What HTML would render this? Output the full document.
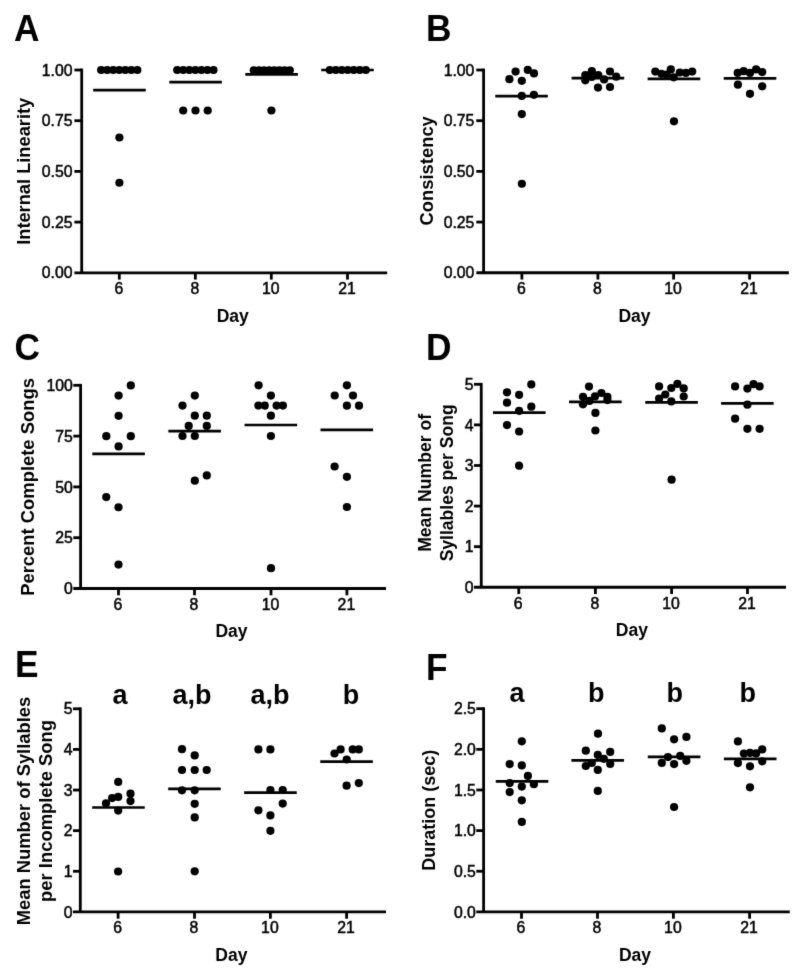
<!DOCTYPE html>
<html><head><meta charset="utf-8"><title>Figure</title>
<style>
html,body{margin:0;padding:0;background:#fff;}
svg{display:block;filter:grayscale(100%);}
text{font-family:"Liberation Sans", sans-serif;fill:#000;}
.ax{stroke:#000;stroke-width:2.8;fill:none;}
.ml{stroke:#000;stroke-width:2.7;fill:none;}
.tl{font-size:15.8px;stroke:#000;stroke-width:0.5px;}
.ti{font-size:18px;font-weight:bold;}
.le{font-size:37px;font-weight:bold;}
.sg{font-size:27px;font-weight:bold;}
circle{fill:#000;}
</style></head>
<body>
<svg width="800" height="975" viewBox="0 0 800 975">
<defs><filter id="soft" x="0" y="0" width="800" height="975" filterUnits="userSpaceOnUse"><feConvolveMatrix order="3" kernelMatrix="0.011 0.084 0.011 0.084 0.62 0.084 0.011 0.084 0.011" divisor="1" edgeMode="none"/></filter></defs>
<rect width="800" height="975" fill="#fff"/>
<g filter="url(#soft)">
<path d="M81.7 68.6V272.8" class="ax"/>
<path d="M74.4 272.8H387.2" class="ax"/>
<text x="72.5" y="278.41" class="tl" text-anchor="end">0.00</text>
<path d="M74.4 222.1H81.7" class="ax"/>
<text x="72.5" y="227.71" class="tl" text-anchor="end">0.25</text>
<path d="M74.4 171.4H81.7" class="ax"/>
<text x="72.5" y="177.01" class="tl" text-anchor="end">0.50</text>
<path d="M74.4 120.7H81.7" class="ax"/>
<text x="72.5" y="126.31" class="tl" text-anchor="end">0.75</text>
<path d="M74.4 70H81.7" class="ax"/>
<text x="72.5" y="75.61" class="tl" text-anchor="end">1.00</text>
<path d="M119.3 272.8V279.6" class="ax"/>
<text x="118.8" y="294.1" class="tl" text-anchor="middle">6</text>
<path d="M195.35 272.8V279.6" class="ax"/>
<text x="194.85" y="294.1" class="tl" text-anchor="middle">8</text>
<path d="M271.3 272.8V279.6" class="ax"/>
<text x="270.8" y="294.1" class="tl" text-anchor="middle">10</text>
<path d="M347.5 272.8V279.6" class="ax"/>
<text x="347" y="294.1" class="tl" text-anchor="middle">21</text>
<text x="232.7" y="321.5" class="ti" style="font-size:17.5px" text-anchor="middle">Day</text>
<text transform="translate(29.6 171.3) rotate(-90)" class="ti" style="font-size:18.25px" text-anchor="middle">Internal Linearity</text>
<text transform="translate(14.1 40.5) scale(0.955 1)" class="le">A</text>
<circle cx="101.15" cy="70" r="4.1"/>
<circle cx="107.18" cy="70" r="4.1"/>
<circle cx="113.21" cy="70" r="4.1"/>
<circle cx="119.24" cy="70" r="4.1"/>
<circle cx="125.27" cy="70" r="4.1"/>
<circle cx="131.3" cy="70" r="4.1"/>
<circle cx="137.33" cy="70" r="4.1"/>
<circle cx="119.4" cy="137.5" r="4.1"/>
<circle cx="119.4" cy="182.75" r="4.1"/>
<path d="M93.2 90.2H145.8" class="ml"/>
<circle cx="177.2" cy="70" r="4.1"/>
<circle cx="183.25" cy="70" r="4.1"/>
<circle cx="189.3" cy="70" r="4.1"/>
<circle cx="195.35" cy="70" r="4.1"/>
<circle cx="201.4" cy="70" r="4.1"/>
<circle cx="207.45" cy="70" r="4.1"/>
<circle cx="213.5" cy="70" r="4.1"/>
<circle cx="183.2" cy="110.5" r="4.1"/>
<circle cx="195.5" cy="110.5" r="4.1"/>
<circle cx="207.7" cy="110.5" r="4.1"/>
<path d="M169.3 82.2H221.9" class="ml"/>
<circle cx="253.8" cy="70.3" r="4.1"/>
<circle cx="258.94" cy="70.3" r="4.1"/>
<circle cx="264.09" cy="70.3" r="4.1"/>
<circle cx="269.23" cy="70.3" r="4.1"/>
<circle cx="274.37" cy="70.3" r="4.1"/>
<circle cx="279.51" cy="70.3" r="4.1"/>
<circle cx="284.66" cy="70.3" r="4.1"/>
<circle cx="289.8" cy="70.3" r="4.1"/>
<circle cx="271.4" cy="110.5" r="4.1"/>
<path d="M245.3 74.3H297.9" class="ml"/>
<circle cx="329.8" cy="70" r="4.1"/>
<circle cx="335.8" cy="70" r="4.1"/>
<circle cx="341.8" cy="70" r="4.1"/>
<circle cx="347.8" cy="70" r="4.1"/>
<circle cx="353.8" cy="70" r="4.1"/>
<circle cx="359.8" cy="70" r="4.1"/>
<circle cx="365.8" cy="70" r="4.1"/>
<path d="M321.2 70H373.8" class="ml"/>
<path d="M483.6 68.6V272.75" class="ax"/>
<path d="M476.3 272.75H788.9" class="ax"/>
<text x="474.4" y="278.36" class="tl" text-anchor="end">0.00</text>
<path d="M476.3 222.06H483.6" class="ax"/>
<text x="474.4" y="227.67" class="tl" text-anchor="end">0.25</text>
<path d="M476.3 171.38H483.6" class="ax"/>
<text x="474.4" y="176.98" class="tl" text-anchor="end">0.50</text>
<path d="M476.3 120.69H483.6" class="ax"/>
<text x="474.4" y="126.3" class="tl" text-anchor="end">0.75</text>
<path d="M476.3 70H483.6" class="ax"/>
<text x="474.4" y="75.61" class="tl" text-anchor="end">1.00</text>
<path d="M521.9 272.75V279.55" class="ax"/>
<text x="521.4" y="294.05" class="tl" text-anchor="middle">6</text>
<path d="M597.9 272.75V279.55" class="ax"/>
<text x="597.4" y="294.05" class="tl" text-anchor="middle">8</text>
<path d="M673.6 272.75V279.55" class="ax"/>
<text x="673.1" y="294.05" class="tl" text-anchor="middle">10</text>
<path d="M749.6 272.75V279.55" class="ax"/>
<text x="749.1" y="294.05" class="tl" text-anchor="middle">21</text>
<text x="634.5" y="321.5" class="ti" style="font-size:17.5px" text-anchor="middle">Day</text>
<text transform="translate(433 170.85) rotate(-90)" class="ti" style="font-size:18.4px" text-anchor="middle">Consistency</text>
<text transform="translate(426.1 40.5) scale(0.955 1)" class="le">B</text>
<circle cx="515.6" cy="71.6" r="4.1"/>
<circle cx="527.8" cy="69.9" r="4.1"/>
<circle cx="534" cy="73.4" r="4.1"/>
<circle cx="509.4" cy="79.2" r="4.1"/>
<circle cx="521.8" cy="80.8" r="4.1"/>
<circle cx="521.8" cy="95.9" r="4.1"/>
<circle cx="533.9" cy="94.8" r="4.1"/>
<circle cx="521.8" cy="114.1" r="4.1"/>
<circle cx="521.85" cy="183.75" r="4.1"/>
<path d="M495.25 96.1H547.85" class="ml"/>
<circle cx="591.8" cy="71.2" r="4.1"/>
<circle cx="610" cy="71.5" r="4.1"/>
<circle cx="585.3" cy="75" r="4.1"/>
<circle cx="598.3" cy="75" r="4.1"/>
<circle cx="591.8" cy="77" r="4.1"/>
<circle cx="604.1" cy="79.4" r="4.1"/>
<circle cx="616.2" cy="76.7" r="4.1"/>
<circle cx="585.3" cy="80.3" r="4.1"/>
<circle cx="598" cy="87.6" r="4.1"/>
<circle cx="610" cy="87" r="4.1"/>
<path d="M571.6 78.2H624.2" class="ml"/>
<circle cx="655.3" cy="71.6" r="4.1"/>
<circle cx="670.8" cy="69.4" r="4.1"/>
<circle cx="692.2" cy="71.6" r="4.1"/>
<circle cx="679.8" cy="72.5" r="4.1"/>
<circle cx="685.9" cy="72.9" r="4.1"/>
<circle cx="661.4" cy="73.8" r="4.1"/>
<circle cx="666.7" cy="74.7" r="4.1"/>
<circle cx="673.7" cy="77.3" r="4.1"/>
<circle cx="674" cy="121.3" r="4.1"/>
<path d="M647.65 78.8H700.25" class="ml"/>
<circle cx="737.7" cy="72.9" r="4.1"/>
<circle cx="743.7" cy="71.2" r="4.1"/>
<circle cx="750" cy="72.9" r="4.1"/>
<circle cx="756.1" cy="69.4" r="4.1"/>
<circle cx="762.2" cy="72.1" r="4.1"/>
<circle cx="737.9" cy="84.7" r="4.1"/>
<circle cx="762.2" cy="86.3" r="4.1"/>
<circle cx="750" cy="93.8" r="4.1"/>
<path d="M723.7 78.4H776.3" class="ml"/>
<path d="M80.6 383.9V588.5" class="ax"/>
<path d="M73.3 588.5H386" class="ax"/>
<text x="72.9" y="594.11" class="tl" text-anchor="end">0</text>
<path d="M73.3 537.7H80.6" class="ax"/>
<text x="72.9" y="543.31" class="tl" text-anchor="end">25</text>
<path d="M73.3 486.9H80.6" class="ax"/>
<text x="72.9" y="492.51" class="tl" text-anchor="end">50</text>
<path d="M73.3 436.1H80.6" class="ax"/>
<text x="72.9" y="441.71" class="tl" text-anchor="end">75</text>
<path d="M73.3 385.3H80.6" class="ax"/>
<text x="72.9" y="390.91" class="tl" text-anchor="end">100</text>
<path d="M118.5 588.5V595.3" class="ax"/>
<text x="118" y="609.8" class="tl" text-anchor="middle">6</text>
<path d="M194.5 588.5V595.3" class="ax"/>
<text x="194" y="609.8" class="tl" text-anchor="middle">8</text>
<path d="M271 588.5V595.3" class="ax"/>
<text x="270.5" y="609.8" class="tl" text-anchor="middle">10</text>
<path d="M346.9 588.5V595.3" class="ax"/>
<text x="346.4" y="609.8" class="tl" text-anchor="middle">21</text>
<text x="231.55" y="637.2" class="ti" style="font-size:17.5px" text-anchor="middle">Day</text>
<text transform="translate(33.6 486.95) rotate(-90)" class="ti" style="font-size:18.4px" text-anchor="middle">Percent Complete Songs</text>
<text transform="translate(14.6 359.7) scale(0.955 1)" class="le">C</text>
<circle cx="130.8" cy="385.4" r="4.1"/>
<circle cx="118.6" cy="395.6" r="4.1"/>
<circle cx="118.6" cy="415.8" r="4.1"/>
<circle cx="106.3" cy="436.2" r="4.1"/>
<circle cx="130.8" cy="436.2" r="4.1"/>
<circle cx="118.6" cy="446.4" r="4.1"/>
<circle cx="106.25" cy="497.1" r="4.1"/>
<circle cx="118.5" cy="507.25" r="4.1"/>
<circle cx="118.5" cy="564.6" r="4.1"/>
<path d="M92.3 453.9H144.9" class="ml"/>
<circle cx="194.8" cy="395.6" r="4.1"/>
<circle cx="182.5" cy="405.6" r="4.1"/>
<circle cx="194.8" cy="415.7" r="4.1"/>
<circle cx="206.8" cy="415.7" r="4.1"/>
<circle cx="188.7" cy="425.9" r="4.1"/>
<circle cx="206.8" cy="425.9" r="4.1"/>
<circle cx="182.5" cy="436" r="4.1"/>
<circle cx="194.8" cy="436" r="4.1"/>
<circle cx="194.8" cy="480.7" r="4.1"/>
<circle cx="206.8" cy="475.4" r="4.1"/>
<path d="M168.35 431.1H220.95" class="ml"/>
<circle cx="258.6" cy="385.3" r="4.1"/>
<circle cx="270.9" cy="395.6" r="4.1"/>
<circle cx="258.4" cy="405.6" r="4.1"/>
<circle cx="264.7" cy="405.6" r="4.1"/>
<circle cx="276.6" cy="405.6" r="4.1"/>
<circle cx="282.9" cy="405.6" r="4.1"/>
<circle cx="270.9" cy="415.7" r="4.1"/>
<circle cx="270.9" cy="436" r="4.1"/>
<circle cx="271" cy="568.2" r="4.1"/>
<path d="M244.55 425H297.15" class="ml"/>
<circle cx="346.9" cy="385.3" r="4.1"/>
<circle cx="334.7" cy="395.5" r="4.1"/>
<circle cx="353" cy="395.5" r="4.1"/>
<circle cx="346.9" cy="405.7" r="4.1"/>
<circle cx="359" cy="405.7" r="4.1"/>
<circle cx="334.6" cy="466.5" r="4.1"/>
<circle cx="346.9" cy="476.8" r="4.1"/>
<circle cx="346.9" cy="507" r="4.1"/>
<path d="M320.5 429.9H373.1" class="ml"/>
<path d="M481.25 382.9V587.25" class="ax"/>
<path d="M473.95 587.25H786" class="ax"/>
<text x="473.55" y="592.86" class="tl" text-anchor="end">0</text>
<path d="M473.95 546.66H481.25" class="ax"/>
<text x="473.55" y="552.27" class="tl" text-anchor="end">1</text>
<path d="M473.95 506.07H481.25" class="ax"/>
<text x="473.55" y="511.68" class="tl" text-anchor="end">2</text>
<path d="M473.95 465.48H481.25" class="ax"/>
<text x="473.55" y="471.09" class="tl" text-anchor="end">3</text>
<path d="M473.95 424.89H481.25" class="ax"/>
<text x="473.55" y="430.5" class="tl" text-anchor="end">4</text>
<path d="M473.95 384.3H481.25" class="ax"/>
<text x="473.55" y="389.91" class="tl" text-anchor="end">5</text>
<path d="M518.75 587.25V594.05" class="ax"/>
<text x="518.25" y="608.55" class="tl" text-anchor="middle">6</text>
<path d="M595.4 587.25V594.05" class="ax"/>
<text x="594.9" y="608.55" class="tl" text-anchor="middle">8</text>
<path d="M671.6 587.25V594.05" class="ax"/>
<text x="671.1" y="608.55" class="tl" text-anchor="middle">10</text>
<path d="M747.5 587.25V594.05" class="ax"/>
<text x="747" y="608.55" class="tl" text-anchor="middle">21</text>
<text x="631.88" y="636.2" class="ti" style="font-size:17.5px" text-anchor="middle">Day</text>
<text transform="translate(430.6 482.9) rotate(-90)" class="ti" style="font-size:17.6px" text-anchor="middle">Mean Number of</text>
<text transform="translate(453.3 482.85) rotate(-90)" class="ti" style="font-size:17.56px" text-anchor="middle">Syllables per Song</text>
<text transform="translate(426.1 359.8) scale(0.955 1)" class="le">D</text>
<circle cx="531.3" cy="384.4" r="4.1"/>
<circle cx="507" cy="392.3" r="4.1"/>
<circle cx="519.1" cy="394.8" r="4.1"/>
<circle cx="507" cy="402.7" r="4.1"/>
<circle cx="531.3" cy="406.7" r="4.1"/>
<circle cx="519.1" cy="410.8" r="4.1"/>
<circle cx="507" cy="425.1" r="4.1"/>
<circle cx="519.1" cy="431.5" r="4.1"/>
<circle cx="519.1" cy="465.7" r="4.1"/>
<path d="M493 412.6H545.6" class="ml"/>
<circle cx="589" cy="386.6" r="4.1"/>
<circle cx="583" cy="396.8" r="4.1"/>
<circle cx="601.4" cy="393" r="4.1"/>
<circle cx="595" cy="396.4" r="4.1"/>
<circle cx="607.4" cy="396.8" r="4.1"/>
<circle cx="589.4" cy="400.9" r="4.1"/>
<circle cx="607.4" cy="400.1" r="4.1"/>
<circle cx="583" cy="404.3" r="4.1"/>
<circle cx="595.4" cy="412.9" r="4.1"/>
<circle cx="595.4" cy="430.5" r="4.1"/>
<path d="M569.05 401.8H621.65" class="ml"/>
<circle cx="659.1" cy="386.4" r="4.1"/>
<circle cx="671.3" cy="388" r="4.1"/>
<circle cx="677.4" cy="383.9" r="4.1"/>
<circle cx="683.7" cy="388.4" r="4.1"/>
<circle cx="665.3" cy="394.5" r="4.1"/>
<circle cx="683.7" cy="396.5" r="4.1"/>
<circle cx="659.1" cy="398.6" r="4.1"/>
<circle cx="671.3" cy="401.4" r="4.1"/>
<circle cx="671.6" cy="479.7" r="4.1"/>
<path d="M645.25 402.4H697.85" class="ml"/>
<circle cx="735.1" cy="386.4" r="4.1"/>
<circle cx="747.4" cy="388.6" r="4.1"/>
<circle cx="753.5" cy="384.2" r="4.1"/>
<circle cx="759.6" cy="386.4" r="4.1"/>
<circle cx="747.4" cy="404.7" r="4.1"/>
<circle cx="735.1" cy="418.7" r="4.1"/>
<circle cx="747.4" cy="428.8" r="4.1"/>
<circle cx="759.6" cy="428.8" r="4.1"/>
<path d="M721.05 403.4H773.65" class="ml"/>
<path d="M80.3 707.4V911.9" class="ax"/>
<path d="M73 911.9H386" class="ax"/>
<text x="72.6" y="917.51" class="tl" text-anchor="end">0</text>
<path d="M73 871.28H80.3" class="ax"/>
<text x="72.6" y="876.89" class="tl" text-anchor="end">1</text>
<path d="M73 830.66H80.3" class="ax"/>
<text x="72.6" y="836.27" class="tl" text-anchor="end">2</text>
<path d="M73 790.04H80.3" class="ax"/>
<text x="72.6" y="795.65" class="tl" text-anchor="end">3</text>
<path d="M73 749.42H80.3" class="ax"/>
<text x="72.6" y="755.03" class="tl" text-anchor="end">4</text>
<path d="M73 708.8H80.3" class="ax"/>
<text x="72.6" y="714.41" class="tl" text-anchor="end">5</text>
<path d="M118.1 911.9V918.7" class="ax"/>
<text x="117.6" y="933.2" class="tl" text-anchor="middle">6</text>
<path d="M194.5 911.9V918.7" class="ax"/>
<text x="194" y="933.2" class="tl" text-anchor="middle">8</text>
<path d="M270.4 911.9V918.7" class="ax"/>
<text x="269.9" y="933.2" class="tl" text-anchor="middle">10</text>
<path d="M346.6 911.9V918.7" class="ax"/>
<text x="346.1" y="933.2" class="tl" text-anchor="middle">21</text>
<text x="231.4" y="960.7" class="ti" style="font-size:17.5px" text-anchor="middle">Day</text>
<text transform="translate(30.1 811) rotate(-90)" class="ti" style="font-size:18.36px" text-anchor="middle">Mean Number of Syllables</text>
<text transform="translate(52.4 810.95) rotate(-90)" class="ti" style="font-size:18.4px" text-anchor="middle">per Incomplete Song</text>
<text transform="translate(15.1 677.4) scale(0.955 1)" class="le">E</text>
<circle cx="118.2" cy="781.9" r="4.1"/>
<circle cx="130.5" cy="793.7" r="4.1"/>
<circle cx="118.2" cy="796.9" r="4.1"/>
<circle cx="112.1" cy="798.1" r="4.1"/>
<circle cx="130.5" cy="801.1" r="4.1"/>
<circle cx="106" cy="803.3" r="4.1"/>
<circle cx="118.2" cy="810.6" r="4.1"/>
<circle cx="118.1" cy="871.5" r="4.1"/>
<path d="M92.15 807.5H144.75" class="ml"/>
<circle cx="182" cy="749.2" r="4.1"/>
<circle cx="194.7" cy="755.4" r="4.1"/>
<circle cx="182" cy="770" r="4.1"/>
<circle cx="194.7" cy="770" r="4.1"/>
<circle cx="206.7" cy="770" r="4.1"/>
<circle cx="182" cy="790.3" r="4.1"/>
<circle cx="194.7" cy="790.3" r="4.1"/>
<circle cx="194.7" cy="803.8" r="4.1"/>
<circle cx="194.7" cy="817.4" r="4.1"/>
<circle cx="194.7" cy="871.3" r="4.1"/>
<path d="M168.15 788.9H220.75" class="ml"/>
<circle cx="258.4" cy="749.4" r="4.1"/>
<circle cx="270.4" cy="749.4" r="4.1"/>
<circle cx="270.4" cy="790" r="4.1"/>
<circle cx="282.7" cy="790" r="4.1"/>
<circle cx="282.7" cy="803.6" r="4.1"/>
<circle cx="258.4" cy="810.3" r="4.1"/>
<circle cx="270.4" cy="815.4" r="4.1"/>
<circle cx="270.4" cy="830.8" r="4.1"/>
<path d="M244.15 792.6H296.75" class="ml"/>
<circle cx="334.5" cy="753.5" r="4.1"/>
<circle cx="340.6" cy="749.4" r="4.1"/>
<circle cx="352.7" cy="749.4" r="4.1"/>
<circle cx="358.8" cy="749.4" r="4.1"/>
<circle cx="346.7" cy="759.5" r="4.1"/>
<circle cx="346.6" cy="785.7" r="4.1"/>
<circle cx="358.8" cy="783.1" r="4.1"/>
<path d="M320.25 761.7H372.85" class="ml"/>
<text x="120.1" y="704.2" class="sg" text-anchor="middle">a</text>
<text x="191.9" y="704.2" class="sg" text-anchor="middle">a,b</text>
<text x="270" y="704.2" class="sg" text-anchor="middle">a,b</text>
<text x="351" y="704.2" class="sg" text-anchor="middle">b</text>
<path d="M483.6 707.3V911.9" class="ax"/>
<path d="M476.3 911.9H789.8" class="ax"/>
<text x="475.9" y="917.51" class="tl" text-anchor="end">0.0</text>
<path d="M476.3 871.26H483.6" class="ax"/>
<text x="475.9" y="876.87" class="tl" text-anchor="end">0.5</text>
<path d="M476.3 830.62H483.6" class="ax"/>
<text x="475.9" y="836.23" class="tl" text-anchor="end">1.0</text>
<path d="M476.3 789.98H483.6" class="ax"/>
<text x="475.9" y="795.59" class="tl" text-anchor="end">1.5</text>
<path d="M476.3 749.34H483.6" class="ax"/>
<text x="475.9" y="754.95" class="tl" text-anchor="end">2.0</text>
<path d="M476.3 708.7H483.6" class="ax"/>
<text x="475.9" y="714.31" class="tl" text-anchor="end">2.5</text>
<path d="M521.5 911.9V918.7" class="ax"/>
<text x="521" y="933.2" class="tl" text-anchor="middle">6</text>
<path d="M597.5 911.9V918.7" class="ax"/>
<text x="597" y="933.2" class="tl" text-anchor="middle">8</text>
<path d="M673.4 911.9V918.7" class="ax"/>
<text x="672.9" y="933.2" class="tl" text-anchor="middle">10</text>
<path d="M749.6 911.9V918.7" class="ax"/>
<text x="749.1" y="933.2" class="tl" text-anchor="middle">21</text>
<text x="634.95" y="960.7" class="ti" style="font-size:17.5px" text-anchor="middle">Day</text>
<text transform="translate(434.8 810.2) rotate(-90)" class="ti" style="font-size:18.0px" text-anchor="middle">Duration (sec)</text>
<text transform="translate(426.1 679.6) scale(0.955 1)" class="le">F</text>
<circle cx="521.8" cy="741.3" r="4.1"/>
<circle cx="509.7" cy="764.1" r="4.1"/>
<circle cx="521.8" cy="765.4" r="4.1"/>
<circle cx="527.9" cy="775.9" r="4.1"/>
<circle cx="509.7" cy="783.1" r="4.1"/>
<circle cx="521.8" cy="786.6" r="4.1"/>
<circle cx="533.9" cy="784.2" r="4.1"/>
<circle cx="509.7" cy="792.1" r="4.1"/>
<circle cx="521.8" cy="800.3" r="4.1"/>
<circle cx="521.8" cy="821.8" r="4.1"/>
<path d="M495.75 781.3H548.35" class="ml"/>
<circle cx="598" cy="733.7" r="4.1"/>
<circle cx="585.8" cy="750.7" r="4.1"/>
<circle cx="610.2" cy="751.9" r="4.1"/>
<circle cx="597.8" cy="754.9" r="4.1"/>
<circle cx="603.8" cy="758.8" r="4.1"/>
<circle cx="591.8" cy="762.9" r="4.1"/>
<circle cx="585.8" cy="766" r="4.1"/>
<circle cx="610.2" cy="763.9" r="4.1"/>
<circle cx="597.8" cy="769.9" r="4.1"/>
<circle cx="597.8" cy="790.9" r="4.1"/>
<path d="M571.4 760.4H624" class="ml"/>
<circle cx="661.8" cy="728.4" r="4.1"/>
<circle cx="674.1" cy="739.3" r="4.1"/>
<circle cx="686.4" cy="736.9" r="4.1"/>
<circle cx="667.9" cy="757.1" r="4.1"/>
<circle cx="680.2" cy="755.9" r="4.1"/>
<circle cx="661.8" cy="762.9" r="4.1"/>
<circle cx="674.1" cy="764.1" r="4.1"/>
<circle cx="686.4" cy="760.8" r="4.1"/>
<circle cx="674.1" cy="807" r="4.1"/>
<path d="M647.8 756.9H700.4" class="ml"/>
<circle cx="737.9" cy="741.4" r="4.1"/>
<circle cx="762.2" cy="749.4" r="4.1"/>
<circle cx="743.9" cy="753.6" r="4.1"/>
<circle cx="750" cy="752.9" r="4.1"/>
<circle cx="756.1" cy="753.4" r="4.1"/>
<circle cx="737.9" cy="763.1" r="4.1"/>
<circle cx="762.2" cy="761.3" r="4.1"/>
<circle cx="750" cy="766.3" r="4.1"/>
<circle cx="750" cy="787.3" r="4.1"/>
<path d="M723.9 758.9H776.5" class="ml"/>
<text x="517.1" y="701.7" class="sg" text-anchor="middle">a</text>
<text x="596.3" y="701.7" class="sg" text-anchor="middle">b</text>
<text x="674.7" y="701.7" class="sg" text-anchor="middle">b</text>
<text x="747.8" y="701.7" class="sg" text-anchor="middle">b</text>
</g>
</svg>
</body></html>
